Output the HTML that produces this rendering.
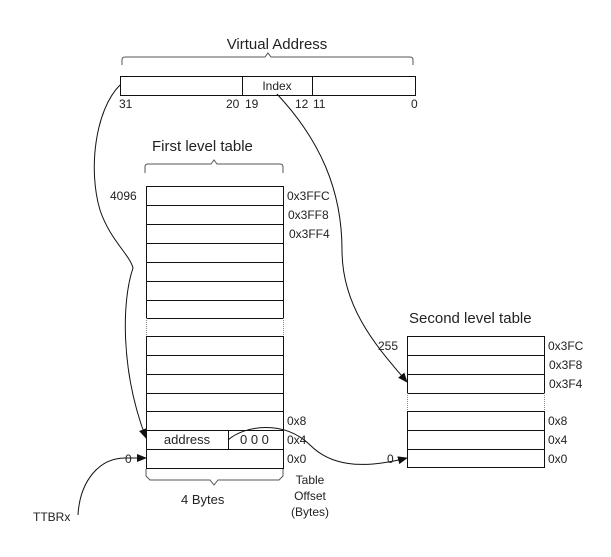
<!DOCTYPE html>
<html><head><style>
body{margin:0;background:#fff;}
svg text{font-family:"Liberation Sans",sans-serif;fill:#222;}
</style></head><body>
<svg width="611" height="552" viewBox="0 0 611 552" xmlns="http://www.w3.org/2000/svg">
<defs><marker id="a" markerWidth="10" markerHeight="8" refX="9" refY="4" orient="auto" markerUnits="userSpaceOnUse"><path d="M0,0 L10,4 L0,8 z" fill="#111"/></marker></defs>
<g fill="none" stroke="#111" stroke-width="1">
<path d="M122,65 V60 Q122,57 125,57 H265 L268,53 L271,57 H410 Q413,57 413,60 V65" stroke="#555"/>
<rect x="120.5" y="76.5" width="295" height="19"/>
<line x1="242.5" y1="76" x2="242.5" y2="96"/>
<line x1="312.5" y1="76" x2="312.5" y2="96"/>
<path d="M145,173 V167 Q145,164 148,164 H211 L214,160 L217,164 H280 Q283,164 283,167 V173" stroke="#555"/>
<rect x="146.5" y="186.5" width="137" height="132"/>
<line x1="146" y1="205.5" x2="284" y2="205.5"/><line x1="146" y1="224.5" x2="284" y2="224.5"/><line x1="146" y1="243.5" x2="284" y2="243.5"/><line x1="146" y1="262.5" x2="284" y2="262.5"/><line x1="146" y1="281.5" x2="284" y2="281.5"/><line x1="146" y1="300.5" x2="284" y2="300.5"/>
<path d="M146.5,318 V336 M283.5,318 V336" stroke-dasharray="1,1" stroke="#888"/>
<rect x="146.5" y="336.5" width="137" height="132"/>
<line x1="146" y1="355.5" x2="284" y2="355.5"/><line x1="146" y1="374.5" x2="284" y2="374.5"/><line x1="146" y1="393.5" x2="284" y2="393.5"/><line x1="146" y1="411.5" x2="284" y2="411.5"/><line x1="146" y1="430.5" x2="284" y2="430.5"/><line x1="146" y1="449.5" x2="284" y2="449.5"/>
<line x1="228.5" y1="430" x2="228.5" y2="449"/>
<path d="M146,469 V476 L150,480 H210 L214,485 L218,480 H279 L283,476 V469" stroke="#555"/>
<rect x="407.5" y="336.5" width="137" height="57"/>
<line x1="407" y1="355.5" x2="545" y2="355.5"/><line x1="407" y1="374.5" x2="545" y2="374.5"/>
<path d="M407.5,393 V411 M544.5,393 V411" stroke-dasharray="1,1" stroke="#888"/>
<rect x="407.5" y="411.5" width="137" height="56"/>
<line x1="407" y1="430.5" x2="545" y2="430.5"/><line x1="407" y1="449.5" x2="545" y2="449.5"/>
<path d="M120,85 C95,110 88,170 100,210 C110,240 130,255 133,268 C122,300 120,370 146,438" marker-end="url(#a)"/>
<path d="M277,94 C320,140 342,190 342,250 C342,310 380,350 407,382" marker-end="url(#a)"/>
<path d="M228,440 C245,425 285,420 310,445 C330,465 360,470 407,458" marker-end="url(#a)"/>
<path d="M78,515 C80,480 100,458 125,458 L146,458" marker-end="url(#a)"/>
</g>
<text x="277" y="49" font-size="15" text-anchor="middle">Virtual Address</text>
<text x="277" y="90" font-size="12" text-anchor="middle">Index</text>
<g font-size="12">
<text x="119" y="108">31</text><text x="226" y="108">20</text><text x="245" y="108">19</text>
<text x="295" y="108">12</text><text x="313" y="108">11</text><text x="411" y="108">0</text>
<text x="110" y="200">4096</text>
<text x="287" y="200">0x3FFC</text><text x="288" y="219">0x3FF8</text><text x="289" y="238">0x3FF4</text>
<text x="287" y="425">0x8</text><text x="287" y="444">0x4</text><text x="287" y="463">0x0</text>
<text x="187" y="444" font-size="13" text-anchor="middle">address</text><text x="240" y="444" font-size="13">0 0 0</text>
<text x="125" y="463">0</text>
<text x="181" y="504" font-size="13">4 Bytes</text>
<text x="310" y="484" text-anchor="middle">Table</text><text x="310" y="500" text-anchor="middle">Offset</text><text x="310" y="516" text-anchor="middle">(Bytes)</text>
<text x="33" y="521">TTBRx</text>
<text x="378" y="350">255</text><text x="387" y="463">0</text>
<text x="548" y="350">0x3FC</text><text x="549" y="369">0x3F8</text><text x="549" y="388">0x3F4</text>
<text x="548" y="425">0x8</text><text x="548" y="444">0x4</text><text x="548" y="463">0x0</text>
</g>
<text x="152" y="151" font-size="15">First level table</text>
<text x="409" y="323" font-size="15">Second level table</text>
</svg>
</body></html>
